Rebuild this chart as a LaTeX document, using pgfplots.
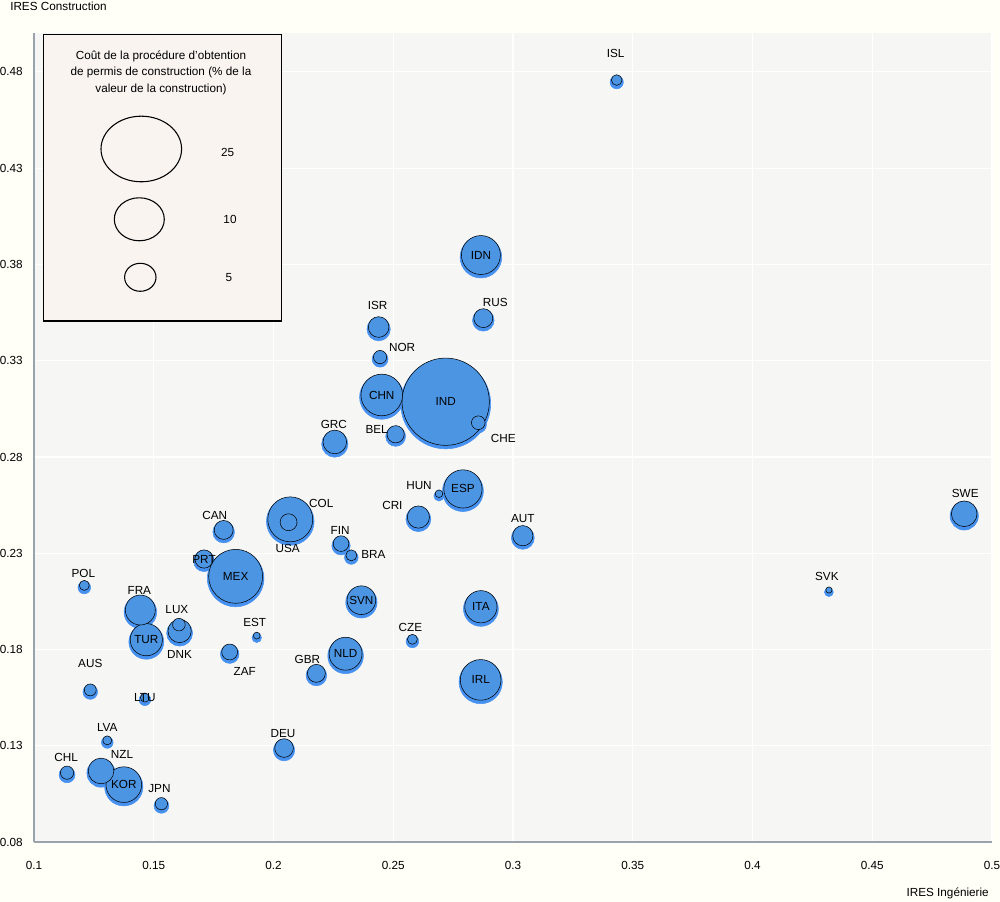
\documentclass[border=0pt]{standalone}
\usepackage{pgfplots}
\pgfplotsset{compat=1.18}
\usepackage{pgfplotstable}
\usepackage{fontspec}
\setmainfont{Liberation Sans}
\definecolor{pagebg}{HTML}{FFFEF7}
\definecolor{plotbg}{HTML}{F6F6F4}
\definecolor{legbg}{HTML}{FAF4F0}
\definecolor{bubble}{RGB}{76,149,226}
\definecolor{glow}{RGB}{70,145,240}
\definecolor{axisgray}{HTML}{9AA3AB}
\newcommand\lblfont{\fontsize{8.8}{10}\selectfont}

% name, IRES Ingenierie, IRES Construction, cost (% of construction value), label offset (px)
\pgfplotstableread{
name x y cost dx dy
IND 0.2719 0.3087 37.1 0 0
MEX 0.1842 0.2180 14.39 0 0
COL 0.2070 0.2476 10.06 31 16
CHN 0.2452 0.3122 8.67 0 0
IRL 0.2865 0.1642 8.27 0 0
IDN 0.2866 0.3849 7.61 0 0
ESP 0.2791 0.2634 7.35 0 0
KOR 0.1375 0.1098 6.41 0 0
NLD 0.2301 0.1778 5.50 0 0
TUR 0.1469 0.1851 5.27 0 0
ITA 0.2866 0.2022 5.27 0 0
FRA 0.1444 0.2005 4.57 -1 20
SVN 0.2367 0.2056 4.20 0 0
NZL 0.1280 0.1169 3.39 21 16
SWE 0.4884 0.2505 3.39 1 20
GRC 0.2256 0.2878 2.90 -1 17
DNK 0.1608 0.1896 2.81 0 -23
CRI 0.2605 0.2488 2.58 -26 12
ISR 0.2439 0.3475 2.24 -1 22
AUT 0.3041 0.2391 2.16 0 17
RUS 0.2876 0.3521 1.90 12 16
CAN 0.1792 0.2421 1.90 -9 14
DEU 0.2044 0.1288 1.85 -1 15
PRT 0.1710 0.2270 1.77 0 0
GBR 0.2179 0.1676 1.72 -9 14
BEL 0.2510 0.2918 1.59 -19 5
USA 0.2063 0.2461 1.54 -1 -26
ZAF 0.1817 0.1787 1.37 15 -19
FIN 0.2282 0.2350 1.33 -1 13
CHE 0.2855 0.2978 1.03 25 -16
NOR 0.2445 0.3319 0.97 22 10
CHL 0.1138 0.1160 0.97 -1 15
LUX 0.1605 0.1929 0.89 -2 15
JPN 0.1532 0.0999 0.84 -2 15
AUS 0.1235 0.1590 0.80 0 26
BRA 0.2325 0.2289 0.69 22 1
ISL 0.3433 0.4758 0.65 -1 27
POL 0.1210 0.2133 0.58 -1 12
CZE 0.2580 0.1853 0.58 -2 12
LTU 0.1463 0.1550 0.48 0 0
LVA 0.1306 0.1328 0.48 0 13
HUN 0.2691 0.2609 0.36 -20 8
EST 0.1930 0.1872 0.30 -2 13
SVK 0.4319 0.2109 0.25 -2 14
}\bubbles

\begin{document}
\begin{tikzpicture}
\path[use as bounding box] (-25.5pt,-45pt) rectangle (724.5pt,631.5pt);
\fill[pagebg] (-25.5pt,-45pt) rectangle (724.5pt,631.5pt);
\begin{axis}[
  at={(0,0)}, anchor=south west,
  scale only axis, width=718.5pt, height=606.4pt,
  xmin=0.1, xmax=0.5, ymin=0.08, ymax=0.5,
  axis background/.style={fill=plotbg},
  axis x line*=bottom, axis y line*=left,
  axis line style={axisgray, line width=1.1pt, -},
  xtick={0.1,0.15,0.2,0.25,0.3,0.35,0.4,0.45,0.5},
  xticklabels={0.1,0.15,0.2,0.25,0.3,0.35,0.4,0.45,0.5},
  ytick={0.08,0.13,0.18,0.23,0.28,0.33,0.38,0.43,0.48},
  yticklabels={0.08,0.13,0.18,0.23,0.28,0.33,0.38,0.43,0.48},
  major tick length=0pt,
  grid=major, major grid style={white, line width=0.8pt},
  ticklabel style={font=\lblfont},
  xticklabel style={anchor=north, inner sep=0pt, yshift=-14.5pt},
  yticklabel style={anchor=east, inner sep=0pt, xshift=-8.25pt},
  clip=false,
]
\addplot[scatter, only marks, mark=*,
  scatter/use mapped color={draw=glow, fill=glow},
  visualization depends on={5.44*sqrt(\thisrow{cost})+0.6 \as \glowr},
  scatter/@pre marker code/.append style={/tikz/mark size=\glowr, /tikz/yshift=-1.6pt, /tikz/opacity=0.25},
] table[x=x, y=y, meta=cost]{\bubbles};
\addplot[scatter, only marks, mark=*,
  scatter/use mapped color={draw=black, fill=bubble},
  visualization depends on={5.44*sqrt(\thisrow{cost})-0.4 \as \bubr},
  scatter/@pre marker code/.append style={/tikz/mark size=\bubr, /tikz/line width=0.85pt},
] table[x=x, y=y, meta=cost]{\bubbles};
\addplot[draw=none, mark=none,
  point meta=explicit symbolic,
  visualization depends on={\thisrow{dx} \as \ldx},
  visualization depends on={\thisrow{dy} \as \ldy},
  nodes near coords,
  nodes near coords style={anchor=center, inner sep=0pt, text=black, font=\lblfont, xshift=\ldx*0.75pt, yshift=\ldy*0.75pt},
] table[x=x, y=y, meta=name]{\bubbles};
\end{axis}
\begin{scope}[x=0.75pt, y=-0.75pt, shift={(-25.5pt,631.5pt)}]
  \node[anchor=base west, inner sep=0pt, font=\lblfont] at (10,11) {IRES Construction};
  \node[anchor=base east, inner sep=0pt, font=\lblfont] at (989,897) {IRES Ingénierie};
  \draw[fill=legbg, line width=1.1pt] (43.3,34.3) rectangle (281.7,321);
  \node[align=center, inner sep=0pt, font=\fontsize{8.8}{12.5}\selectfont] at (161,72.7)
    {Coût de la procédure d’obtention\\de permis de construction (\% de la\\valeur de la construction)};
  \draw[line width=0.8pt] (141.3,149) ellipse [x radius=40.3, y radius=32.8];
  \draw[line width=0.8pt] (139.3,219.3) ellipse [x radius=25, y radius=21.5];
  \draw[line width=0.8pt] (140.3,277.3) ellipse [x radius=15.7, y radius=14];
  \node[inner sep=0pt, font=\lblfont] at (227.7,152.3) {25};
  \node[inner sep=0pt, font=\lblfont] at (230,219) {10};
  \node[inner sep=0pt, font=\lblfont] at (229,277.7) {5};
\end{scope}
\end{tikzpicture}
\end{document}
